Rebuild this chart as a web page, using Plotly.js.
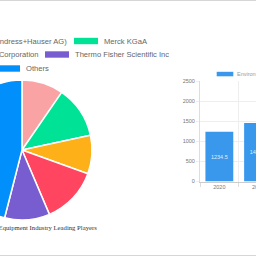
<!DOCTYPE html>
<html><head><meta charset="utf-8">
<script src="https://cdn.plot.ly/plotly-3.0.1.min.js"></script>
<style>
html,body{margin:0;padding:0;width:256px;height:256px;overflow:hidden;background:#fff}
#wrap{position:relative;width:256px;height:256px;overflow:hidden}
#chart{position:absolute;left:-200px;top:0;width:700px;height:256px}
</style>
</head><body><div id="wrap"><div id="chart"></div></div>
<script>
// ---- data ----
const playerNames = ['Analytik Jena (Endress+Hauser AG)', 'Merck KGaA', 'ABB', 'Shimadzu Corporation', 'Thermo Fisher Scientific Inc', 'Others'];
const playerShares = [9.6, 12.0, 8.9, 13.1, 10.4, 46.0];
const years = ['2020', '2021'];
const marketValues = [1234.5, 1456.8];
const yTicks = [0, 500, 1000, 1500, 2000, 2500];
const seriesName = 'Environmental Monitoring Equipment Market Size';
const pieTitle = 'Environmental Monitoring Equipment Industry Leading Players';

// ---- style ----
const playerColors = ['#f9a3a4', '#00e396', '#feb019', '#ff4560', '#775dd0', '#008ffb'];
const barColor = '#3a98ec';
const legendRows = [[0, 1], [2, 3, 4], [5]];
const OFF = 200, W = 700, H = 256;
const px = x => (x + OFF) / W;
const py = y => 1 - y / H;

const legFont = '"Liberation Sans", Arial, sans-serif';
const legSize = 7.6;
const cv = document.createElement('canvas').getContext('2d');
cv.font = legSize + 'px ' + legFont;
const tw = s => cv.measureText(s).width;

const shapes = [], annotations = [];
// page border lines
shapes.push({type:'line', xref:'paper', yref:'paper', x0:0, x1:1, y0:py(0.5), y1:py(0.5), line:{color:'#d6d6d6', width:1}});
shapes.push({type:'line', xref:'paper', yref:'paper', x0:0, x1:1, y0:py(255.5), y1:py(255.5), line:{color:'#d6d6d6', width:1}});

// pie legend (manual)
const lastSwatch = [74, 45, -4];
const rowY = [41, 54.5, 68.5];
legendRows.forEach((row, r) => {
  let sx = lastSwatch[r];
  for (let k = row.length - 1; k >= 0; k--) {
    const i = row[k];
    if (k < row.length - 1) {
      const textRight = sx - 7.5;
      sx = textRight - tw(playerNames[i]) - 29;
    }
    shapes.push({type:'rect', xref:'paper', yref:'paper', x0:px(sx), x1:px(sx + 24), y0:py(rowY[r] - 3.2), y1:py(rowY[r] + 3.2), fillcolor:playerColors[i], line:{width:0}});
    annotations.push({xref:'paper', yref:'paper', x:px(sx + 28), y:py(rowY[r]), xanchor:'left', yanchor:'middle', showarrow:false, text:playerNames[i], font:{family:legFont, size:legSize, color:'#666'}});
  }
});

// pie title
annotations.push({xref:'paper', yref:'paper', x:px(99), y:py(227.5), xanchor:'right', yanchor:'middle', showarrow:false, text:pieTitle, font:{family:'"Liberation Serif", "Times New Roman", serif', size:6.7, color:'#333'}});

// bar legend
shapes.push({type:'rect', xref:'paper', yref:'paper', x0:px(216.7), x1:px(233.3), y0:py(71.8), y1:py(76.3), fillcolor:barColor, line:{width:0}});
annotations.push({xref:'paper', yref:'paper', x:px(235), y:py(74), xanchor:'left', yanchor:'middle', showarrow:false, text:seriesName, font:{family:legFont, size:5.5, color:'#999'}});

const pie = {
  type:'pie', labels:playerNames, values:playerShares, sort:false, direction:'clockwise', rotation:0,
  marker:{colors:playerColors, line:{color:'#fff', width:1.5}}, textinfo:'none', hoverinfo:'skip',
  domain:{x:[152 / W, 292 / W], y:[(106 - 70) / H, (106 + 70) / H]}, showlegend:false
};
const bar = {
  type:'bar', x:years, y:marketValues, text:marketValues.map(v => v.toFixed(1)),
  textposition:'inside', insidetextanchor:'middle', textangle:0,
  textfont:{family:legFont, size:5.5, color:'rgba(255,255,255,0.85)'},
  marker:{color:barColor}, hoverinfo:'skip', showlegend:false, xaxis:'x', yaxis:'y'
};
const axFont = {family:legFont, size:5.5, color:'#777'};
const layout = {
  width:W, height:H, margin:{l:0, r:0, t:0, b:0, pad:0},
  paper_bgcolor:'#fff', plot_bgcolor:'#fff', showlegend:false, bargap:0.28,
  xaxis:{type:'category', domain:[px(200), px(277.4)], range:[-0.5, 1.5], tickson:'boundaries', ticks:'outside', ticklen:4, tickcolor:'#ddd',
         showgrid:true, gridcolor:'#eee', showline:true, linecolor:'#ccc', tickfont:axFont, fixedrange:true},
  yaxis:{domain:[74.5 / H, 175 / H], range:[0, 2500], tickvals:yTicks, ticks:'outside', ticklen:3, tickcolor:'#eee',
         showgrid:true, gridcolor:'#eee', showline:true, linecolor:'#ddd', zeroline:false, tickfont:axFont, fixedrange:true},
  shapes:shapes, annotations:annotations
};
Plotly.newPlot('chart', [pie, bar], layout, {staticPlot:true, displayModeBar:false});
</script>
</body></html>
